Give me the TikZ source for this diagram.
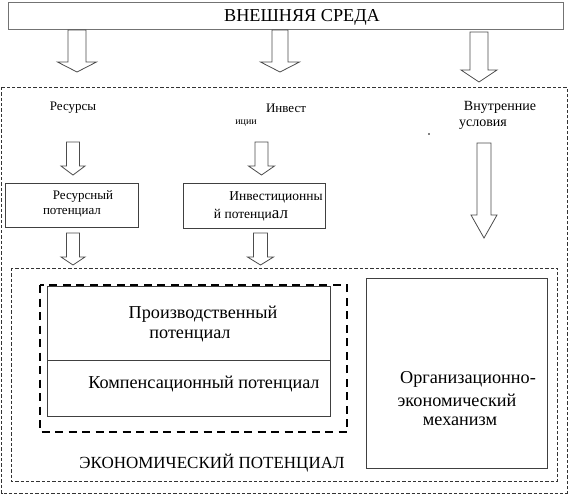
\documentclass[tikz,border=0pt]{standalone}
\usepackage{fontspec}
\setmainfont{Liberation Serif}
\begin{document}
\begin{tikzpicture}[x=1pt, y=-1pt, line join=miter, font=\fontsize{13}{15}\selectfont,
	box/.style={draw=black!75, line width=0.8pt},
	thin dash/.style={draw=black!80, line width=0.7pt, dash pattern=on 3.3pt off 2pt},
	fat dash/.style={draw=black, line width=2.2pt, dash pattern=on 8pt off 5.5pt},
	hollow/.style={draw=black!70, line width=0.8pt, fill=white}]
	\def\szL{\fontsize{18.2}{21}\selectfont}
	\def\szM{\fontsize{17}{19}\selectfont}
	\def\szS{\fontsize{10}{12}\selectfont}
	\def\szN{\fontsize{14}{16}\selectfont}
	\useasboundingbox (0,0) rectangle (569,496);
	% рамки
	\draw[box, draw=black!55, line width=1pt] (8,2) rectangle (563,29);
	\draw[thin dash] (1.5,87) rectangle (567,493);
	\draw[thin dash] (11,268) rectangle (557,481);
	\draw[box] (5,183) rectangle (138,227);
	\draw[box] (183,183) rectangle (325,228);
	\draw[box] (366,278) rectangle (547,468);
	\draw[box] (47,286) rectangle (330,416) (47,360)--(330,360);
	\draw[fat dash] (40,285) rectangle (347,432);
	% стрелки
	\foreach \cx/\ya/\yb/\yc/\s/\h in {77/30/62/72/9/19.5, 280/30/62/72/8/19.5, 479/32/70/82/9/18,
		73/142/166/175/6.5/12, 261.5/142/166/175/6.5/13, 73/233/257/265/6.5/12, 260.5/233/257/265/7/13,
		484/143/215/238/7/13}
		\draw[hollow] (\cx-\s,\ya)--(\cx-\s,\yb)--(\cx-\h,\yb)--(\cx,\yc)--(\cx+\h,\yb)--(\cx+\s,\yb)--(\cx+\s,\ya)--cycle;
	% тексты
	\node (env) at (302,17) {\szL ВНЕШНЯЯ СРЕДА};
	\node (res) at (73,108) {Ресурсы};
	\node (inv) at (286,108) {Инвест};
	\node (inv2) at (246,123) {\szS иции};
	\node (int) at (500,107) {\szN Внутренние};
	\node (int2) at (483,125) {\szN условия};
	\fill (429,134) circle (0.8);
	\node (rp1) at (83,196) {Ресурсный};
	\node (rp2) at (72,213) {потенциал};
	\node (ip1) at (276,197) {\fontsize{13.5}{15}\selectfont Инвестиционны};
	\node (ip2) at (251,215) {\fontsize{13.5}{15}\selectfont й потенци{\szM ал}};
	\node (pp1) at (203,314) {\szL Производственный};
	\node (pp2) at (190,336) {\szL потенциал};
	\node (kp) at (204,384) {\szL Компенсационный потенциал};
	\node (om1) at (468,379) {\szL Организационно-};
	\node (om2) at (457,400) {\szL экономический};
	\node (om3) at (460,421) {\szL механизм};
	\node (ep) at (212,463) {\szM ЭКОНОМИЧЕСКИЙ ПОТЕНЦИАЛ};
\end{tikzpicture}
\end{document}
